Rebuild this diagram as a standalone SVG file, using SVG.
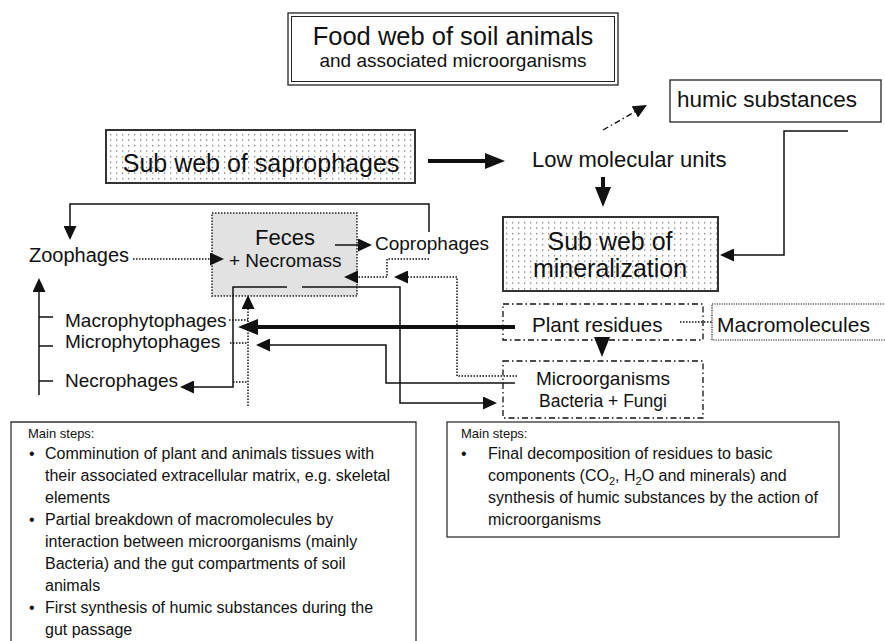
<svg xmlns="http://www.w3.org/2000/svg" width="885" height="641" viewBox="0 0 885 641">
<defs>
<pattern id="dots" width="6" height="5.5" patternUnits="userSpaceOnUse"><rect width="6" height="5.5" fill="#fff"/><rect x="2" y="2" width="1.3" height="1.3" fill="#777"/></pattern>
<marker id="ah" viewBox="0 0 20 16" markerWidth="20" markerHeight="16" refX="4" refY="8" orient="auto" markerUnits="userSpaceOnUse"><path d="M0,0 L20,8 L0,16 z" fill="#111" stroke="none"/></marker>
<marker id="as" viewBox="0 0 14 13" markerWidth="14" markerHeight="13" refX="3" refY="6.5" orient="auto" markerUnits="userSpaceOnUse"><path d="M0,0 L14,6.5 L0,13 z" fill="#111" stroke="none"/></marker>
</defs>
<style>
text{font-family:"Liberation Sans",Arial,sans-serif;fill:#111}
.c{fill:none;stroke:#111;stroke-width:1.5}
.thick{fill:none;stroke:#111;stroke-width:4}
.dot{fill:none;stroke:#111;stroke-width:1.5;stroke-dasharray:1.5 1.5}
.dd{fill:none;stroke:#111;stroke-width:1.3;stroke-dasharray:6 3 1.5 3}
.box{fill:#fff;stroke:#222;stroke-width:1.3}
.m{text-anchor:middle}
</style>

<g id="title">
<rect x="288" y="13" width="330" height="72" fill="#fff" stroke="#222" stroke-width="1.3"/>
<rect x="291.5" y="16.5" width="323" height="65" fill="none" stroke="#222" stroke-width="1"/>
<text x="453" y="45" class="m" font-size="25.5">Food web of soil animals</text>
<text x="453" y="67" class="m" font-size="19">and associated microorganisms</text>
</g>

<g id="humic">
<rect x="670" y="80" width="211" height="42" class="box"/>
<text x="677" y="107" font-size="22.5">humic substances</text>
</g>

<g id="saprophages">
<rect x="106" y="130" width="309" height="53" fill="url(#dots)" stroke="#333" stroke-width="2"/>
<text x="261" y="172" class="m" font-size="25">Sub web of saprophages</text>
</g>

<g id="lowmol">
<text x="532" y="167" font-size="22">Low molecular units</text>
</g>

<g id="mineralization">
<rect x="503" y="217" width="215" height="74" fill="url(#dots)" stroke="#333" stroke-width="2"/>
<text x="610" y="250" class="m" font-size="25">Sub web of</text>
<text x="610" y="277" class="m" font-size="25">mineralization</text>
</g>

<g id="feces">
<rect x="212" y="213" width="145" height="83" fill="#e2e2e2" stroke="#222" stroke-width="1.5" stroke-dasharray="1.5 1.5"/>
<text x="285" y="245" class="m" font-size="22">Feces</text>
<text x="229" y="267" font-size="19">+ Necromass</text>
</g>

<g id="coprophages"><text x="375" y="250" font-size="19">Coprophages</text></g>
<g id="zoophages"><text x="29" y="262" font-size="20">Zoophages</text></g>
<g id="macrophytophages"><text x="65" y="327" font-size="19">Macrophytophages</text></g>
<g id="microphytophages"><text x="65" y="348" font-size="19">Microphytophages</text></g>
<g id="necrophages"><text x="65" y="387" font-size="19">Necrophages</text></g>

<g id="plantresidues">
<rect x="503" y="304" width="200" height="36" fill="none" class="dd"/>
<text x="532" y="332" font-size="20.6">Plant residues</text>
</g>

<g id="macromolecules">
<rect x="712" y="304" width="180" height="36" fill="none" stroke="#111" stroke-width="1.2" stroke-dasharray="1.2 1.2"/>
<text x="717" y="332" font-size="21">Macromolecules</text>
</g>

<g id="microorganisms">
<rect x="503" y="361" width="200" height="57" fill="none" class="dd"/>
<text x="603" y="385" class="m" font-size="19">Microorganisms</text>
<text x="603" y="407" class="m" font-size="17.5">Bacteria + Fungi</text>
</g>

<g id="connectors">
<path class="thick" d="M428,161 H489" marker-end="url(#ah)"/>
<path class="thick" d="M603,177 V191" marker-end="url(#ah)"/>
<path class="dd" d="M603,130 L637.4,110.4" marker-end="url(#as)"/>
<path class="c" d="M848,131 H784 V255 H731" marker-end="url(#as)"/>
<path class="c" d="M429,232 V204 H70 V229" marker-end="url(#as)"/>
<path class="c" d="M335,245 H361" marker-end="url(#as)"/>
<path class="dot" d="M133,259 H213" marker-end="url(#as)"/>
<path class="c" d="M39,395 V289" marker-end="url(#as)"/>
<path class="c" d="M39,317 H53 M39,346 H53 M39,381 H53"/>
<path class="dot" d="M229,320 H248 M230,343 H248 M233,382 H248"/>
<path class="dot" d="M248,406 V306" marker-end="url(#as)"/>
<path class="c" d="M287,287 H233 V387 H191" marker-end="url(#as)"/>
<path class="c" d="M302,287 H400 V403 H486" marker-end="url(#as)"/>
<path class="thick" d="M515,327 H254" marker-end="url(#ah)"/>
<path class="c" d="M515,383 H386 V345 H267" marker-end="url(#as)"/>
<path class="dot" d="M517,376 H457 V277 H405" marker-end="url(#as)"/>
<path class="dot" d="M429,259 H387 V277 H355" marker-end="url(#as)"/>
<path class="dot" d="M680,322 H712"/>
<path class="c" d="M602,338 V341" marker-end="url(#ah)"/>
</g>

<g id="steps-left">
<path d="M11,645 V422 H416 V645" fill="#fff" stroke="#333" stroke-width="1.3"/>
<text x="28" y="438" font-size="13">Main steps:</text>
<g font-size="16">
<text x="29" y="459">•</text>
<text x="45" y="459">Comminution of plant and animals tissues with</text>
<text x="45" y="481">their associated extracellular matrix, e.g. skeletal</text>
<text x="45" y="503">elements</text>
<text x="29" y="525">•</text>
<text x="45" y="525">Partial breakdown of macromolecules by</text>
<text x="45" y="547">interaction between microorganisms (mainly</text>
<text x="45" y="569">Bacteria) and the gut compartments of soil</text>
<text x="45" y="591">animals</text>
<text x="29" y="613">•</text>
<text x="45" y="613">First synthesis of humic substances during the</text>
<text x="45" y="635">gut passage</text>
</g>
</g>

<g id="steps-right">
<rect x="447" y="422" width="392" height="115" fill="#fff" stroke="#333" stroke-width="1.3"/>
<text x="461" y="438" font-size="13">Main steps:</text>
<g font-size="16">
<text x="461" y="459">•</text>
<text x="488" y="459">Final decomposition of residues to basic</text>
<text x="488" y="481">components (CO<tspan font-size="11" dy="4">2</tspan><tspan dy="-4">, H</tspan><tspan font-size="11" dy="4">2</tspan><tspan dy="-4">O and minerals) and</tspan></text>
<text x="488" y="503">synthesis of humic substances by the action of</text>
<text x="488" y="525">microorganisms</text>
</g>
</g>
</svg>
